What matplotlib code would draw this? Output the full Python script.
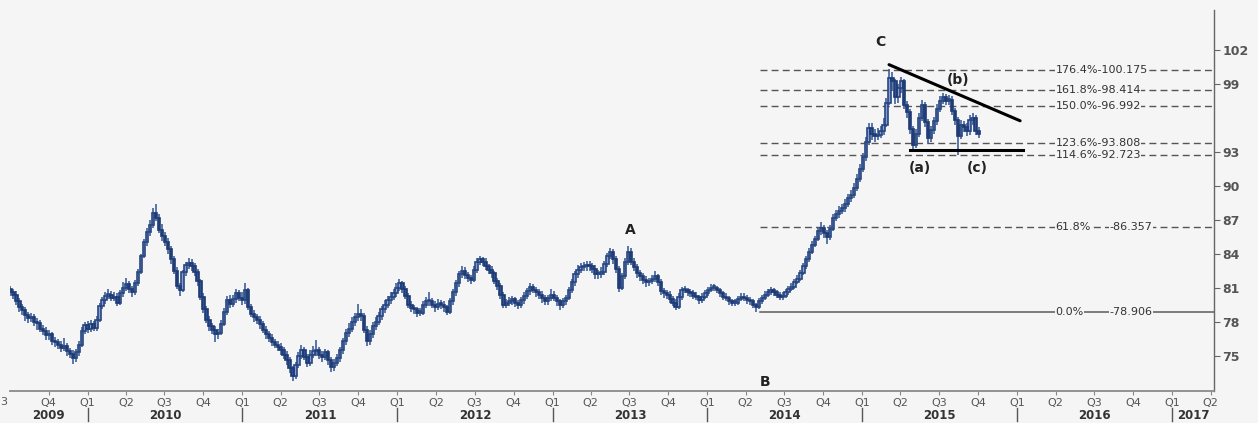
import numpy as np
import pandas as pd
import matplotlib
matplotlib.use('Agg')
import matplotlib.pyplot as plt
import matplotlib.dates as mdates
from matplotlib.transforms import blended_transform_factory

# ---------------- data (weekly candles) ----------------
start_date = '2009-07-03'
first_open = 80.9
close = [
    80.6, 80.4, 79.8, 79.3, 79.0, 78.6, 78.3, 78.4, 78.0, 77.9, 77.4, 77.2, 76.8,
    76.9, 76.3, 76.2, 76.0, 75.7, 75.9, 75.4, 75.2, 74.8, 75.3, 76.0, 77.2, 77.7,
    77.4, 77.8, 77.5, 78.2, 79.4, 79.9, 80.3, 80.4, 80.1, 80.2, 79.7, 80.5, 81.0,
    81.3, 80.9, 80.6, 81.4, 82.4, 83.8, 85.0, 85.9, 86.5, 87.6, 87.2, 86.1, 85.6,
    85.0, 84.4, 83.5, 82.5, 81.2, 80.8, 82.4, 83.0, 83.2, 82.9, 82.4, 81.6, 80.2,
    79.1, 78.2, 77.6, 77.3, 76.9, 77.0, 77.8, 78.9, 79.9, 79.6, 80.0, 80.5, 80.1,
    79.9, 80.8, 79.3, 78.7, 78.4, 78.2, 77.8, 77.3, 76.9, 76.6, 76.2, 76.0, 75.8,
    75.5, 75.1, 74.6, 73.9, 73.2, 74.2, 75.0, 75.5, 74.9, 74.4, 75.1, 75.4, 75.5,
    75.1, 74.9, 75.3, 74.6, 74.0, 74.4, 74.8, 75.5, 76.3, 77.0, 77.4, 78.0, 78.4,
    78.7, 78.5, 77.3, 76.3, 76.9, 77.6, 78.0, 78.5, 79.1, 79.5, 79.9, 80.2, 80.5,
    81.0, 81.4, 80.9, 80.3, 79.5, 79.2, 79.1, 78.8, 78.8, 79.5, 79.8, 79.8, 79.5,
    79.3, 79.6, 79.5, 79.3, 78.9, 79.8, 80.6, 81.4, 82.2, 82.5, 82.1, 81.9, 81.7,
    82.6, 83.3, 83.5, 83.3, 82.9, 82.6, 82.3, 81.6, 81.2, 80.4, 79.5, 79.7, 79.8,
    80.0, 79.7, 79.5, 79.9, 80.3, 80.7, 81.1, 80.8, 80.6, 80.4, 80.1, 79.8, 80.1,
    80.4, 80.1, 79.8, 79.5, 79.8, 80.1, 80.8, 81.5, 82.2, 82.6, 82.8, 82.9, 83.0,
    82.9, 82.7, 82.2, 82.2, 82.4, 83.1, 83.8, 84.2, 83.5, 82.7, 81.0, 82.0, 83.3,
    84.2, 83.3, 82.8, 82.3, 82.0, 81.7, 81.5, 81.6, 81.8, 82.0, 81.5, 80.7, 80.5,
    80.4, 80.0, 79.7, 79.3, 80.2, 80.8, 80.8, 80.6, 80.5, 80.3, 80.2, 79.9, 80.2,
    80.5, 80.8, 81.0, 81.0, 80.8, 80.5, 80.2, 80.1, 79.8, 79.7, 79.7, 80.0, 80.2,
    80.1, 79.9, 79.8, 79.5, 79.3, 79.8, 80.1, 80.4, 80.6, 80.8, 80.6, 80.4, 80.2,
    80.3, 80.6, 80.9, 81.1, 81.5, 81.8, 82.3, 82.9, 83.5, 84.2, 84.8, 85.3, 86.0,
    86.3, 85.8, 85.5, 86.2, 87.2, 87.5, 87.8, 88.0, 88.4, 88.9, 89.2, 89.8, 90.6,
    91.5, 92.5, 93.9, 95.1, 94.6, 94.4, 94.5, 94.8, 95.4, 97.3, 99.5, 99.2, 97.8,
    98.6, 99.2, 97.1, 96.5, 95.0, 93.6, 94.6, 96.0, 97.1, 95.6, 94.2, 94.9, 95.7,
    96.8, 97.5, 97.8, 97.5, 97.6, 96.6, 95.8, 94.4, 95.4, 95.2, 94.8, 95.8, 96.0,
    94.8, 94.6,
]
high = [
    81.2, 80.9, 80.7, 80.1, 79.6, 79.3, 78.9, 78.8, 78.7, 78.3, 78.2, 77.7, 77.5,
    77.3, 77.1, 76.7, 76.5, 76.3, 76.6, 76.1, 75.7, 75.5, 75.6, 76.3, 77.5, 78.0,
    78.1, 78.2, 78.1, 78.5, 79.7, 80.2, 80.6, 80.9, 80.7, 80.6, 80.5, 80.8, 81.5,
    81.9, 81.6, 81.2, 81.7, 82.7, 84.0, 85.3, 86.3, 87.0, 88.0, 88.4, 87.5, 86.6,
    85.9, 85.4, 84.7, 83.8, 82.8, 81.4, 82.6, 83.3, 83.6, 83.5, 83.2, 82.7, 81.8,
    80.5, 79.4, 78.5, 77.9, 77.6, 77.4, 78.2, 79.2, 80.3, 80.4, 80.4, 80.9, 80.8,
    80.6, 81.4, 81.0, 79.6, 79.0, 78.7, 78.5, 78.1, 77.6, 77.2, 76.9, 76.5, 76.3,
    76.1, 75.8, 75.4, 74.9, 74.1, 74.5, 75.3, 76.0, 75.8, 75.2, 75.5, 75.9, 76.4,
    75.8, 75.4, 75.6, 75.5, 74.9, 74.7, 75.2, 75.8, 76.6, 77.4, 77.9, 78.4, 78.8,
    79.6, 79.1, 78.8, 77.6, 77.3, 78.0, 78.4, 78.9, 79.4, 79.9, 80.3, 80.6, 80.9,
    81.4, 81.8, 81.6, 81.2, 80.5, 79.8, 79.5, 79.3, 79.2, 79.8, 80.2, 80.6, 80.1,
    79.8, 80.0, 79.9, 79.8, 79.5, 80.1, 80.9, 81.7, 82.5, 82.9, 82.8, 82.4, 82.1,
    82.9, 83.6, 83.8, 83.7, 83.6, 83.1, 82.9, 82.5, 81.9, 81.4, 80.6, 80.0, 80.2,
    80.3, 80.2, 79.9, 80.2, 80.6, 81.0, 81.4, 81.3, 81.1, 80.9, 80.7, 80.4, 80.4,
    80.9, 80.7, 80.4, 80.0, 80.1, 80.4, 81.1, 81.8, 82.5, 83.0, 83.2, 83.3, 83.4,
    83.4, 83.2, 83.0, 82.6, 82.8, 83.4, 84.1, 84.5, 84.4, 83.8, 82.9, 82.3, 83.6,
    84.7, 84.5, 83.6, 83.1, 82.6, 82.3, 82.0, 81.9, 82.1, 82.5, 82.2, 81.8, 81.0,
    80.8, 80.7, 80.3, 80.0, 80.5, 81.1, 81.2, 81.0, 80.9, 80.8, 80.6, 80.4, 80.5,
    80.8, 81.1, 81.3, 81.3, 81.2, 81.0, 80.7, 80.5, 80.3, 80.0, 80.0, 80.3, 80.5,
    80.5, 80.4, 80.2, 80.0, 79.7, 80.1, 80.4, 80.7, 80.9, 81.1, 81.0, 80.8, 80.6,
    80.6, 80.9, 81.2, 81.4, 81.8, 82.1, 82.6, 83.2, 83.8, 84.5, 85.1, 85.6, 86.3,
    86.8, 86.5, 86.1, 86.5, 87.5, 87.9, 88.2, 88.4, 88.8, 89.3, 89.6, 90.2, 91.0,
    91.9, 92.9, 94.3, 95.5, 95.5, 95.0, 95.1, 95.3, 96.0, 97.7, 100.3, 100.0, 99.4,
    99.0, 99.6, 99.4, 97.5, 96.8, 95.3, 95.0, 96.4, 97.6, 97.4, 95.9, 95.3, 96.1,
    97.2, 97.9, 98.2, 98.1, 98.0, 97.9, 96.9, 96.1, 95.8, 95.7, 95.5, 96.2, 96.4,
    96.2, 95.2,
]
low = [
    80.3, 80.0, 79.5, 78.9, 78.6, 78.1, 77.9, 78.0, 77.6, 77.3, 77.1, 76.8, 76.4,
    76.4, 76.0, 75.8, 75.6, 75.3, 75.4, 75.0, 74.8, 74.3, 74.5, 75.0, 75.8, 76.9,
    77.0, 77.1, 77.2, 77.2, 78.0, 79.1, 79.6, 80.0, 79.8, 79.8, 79.4, 79.5, 80.2,
    80.7, 80.5, 80.2, 80.4, 81.2, 82.2, 83.6, 84.7, 85.6, 86.3, 86.9, 85.8, 85.1,
    84.7, 84.0, 83.1, 82.2, 80.9, 80.3, 80.6, 82.0, 82.7, 82.5, 82.0, 81.2, 79.9,
    78.8, 77.9, 77.2, 76.9, 76.2, 76.5, 76.8, 77.6, 78.6, 79.2, 79.3, 79.7, 79.8,
    79.5, 79.6, 79.0, 78.4, 78.0, 77.8, 77.4, 77.0, 76.5, 76.2, 75.9, 75.7, 75.4,
    75.1, 74.7, 74.2, 73.5, 72.8, 73.0, 73.9, 74.7, 74.6, 74.0, 74.1, 74.8, 75.0,
    74.7, 74.5, 74.6, 74.2, 73.6, 73.7, 74.1, 74.5, 75.2, 76.0, 76.7, 77.1, 77.6,
    78.1, 78.1, 77.0, 75.9, 76.0, 76.6, 77.3, 77.7, 78.2, 78.8, 79.2, 79.6, 79.9,
    80.2, 80.7, 80.5, 80.0, 79.2, 78.9, 78.7, 78.4, 78.5, 78.6, 79.2, 79.4, 79.2,
    78.9, 79.0, 79.1, 78.9, 78.6, 78.7, 79.5, 80.3, 81.1, 81.9, 81.8, 81.5, 81.3,
    81.5, 82.3, 83.0, 82.9, 82.6, 82.2, 81.9, 81.3, 80.8, 80.0, 79.2, 79.2, 79.4,
    79.5, 79.3, 79.1, 79.2, 79.6, 80.0, 80.4, 80.5, 80.2, 80.0, 79.7, 79.5, 79.5,
    79.8, 79.8, 79.4, 79.0, 79.2, 79.5, 79.9, 80.5, 81.2, 81.9, 82.3, 82.5, 82.5,
    82.5, 82.3, 81.8, 81.8, 81.9, 82.1, 82.8, 83.5, 83.1, 82.3, 80.6, 80.8, 81.8,
    83.0, 83.0, 82.5, 81.9, 81.6, 81.3, 81.1, 81.2, 81.3, 81.5, 81.2, 80.4, 80.1,
    80.0, 79.7, 79.4, 79.0, 79.1, 79.9, 80.5, 80.3, 80.2, 80.0, 79.9, 79.6, 79.7,
    80.0, 80.3, 80.6, 80.7, 80.5, 80.2, 79.9, 79.8, 79.5, 79.4, 79.4, 79.5, 79.8,
    79.8, 79.6, 79.5, 79.2, 78.9, 79.1, 79.6, 79.9, 80.2, 80.4, 80.3, 80.1, 79.9,
    79.9, 80.1, 80.4, 80.7, 80.9, 81.3, 81.6, 82.1, 82.7, 83.3, 84.0, 84.6, 85.1,
    85.7, 85.4, 84.9, 85.2, 86.0, 86.9, 87.2, 87.5, 87.7, 88.1, 88.6, 88.9, 89.5,
    90.3, 91.2, 92.2, 93.6, 94.0, 93.9, 94.0, 94.2, 94.5, 95.2, 97.1, 98.4, 97.2,
    97.3, 98.2, 96.8, 96.0, 94.6, 93.1, 93.3, 94.3, 95.7, 95.2, 93.8, 93.9, 94.6,
    95.4, 96.5, 97.2, 97.1, 97.1, 96.2, 95.4, 92.7, 94.1, 94.7, 94.4, 94.5, 95.4,
    94.5, 94.2,
]

# Fibonacci levels
fib_pct = ['176.4%', '161.8%', '150.0%', '123.6%', '114.6%', '61.8%', '0.0%']
fib_val = [100.175, 98.414, 96.992, 93.808, 92.723, 86.357, 78.906]
fib_start = '2014-05-06'

# Wave labels
wave_text = ['A', 'B', 'C', '(a)', '(b)', '(c)']
wave_date = ['2013-07-03', '2014-05-17', '2015-02-12', '2015-05-17', '2015-08-14', '2015-09-28']
wave_val = [86.1, 72.7, 102.7, 91.6, 99.35, 91.6]

# Triangle lines
trend_dates = ['2015-03-05', '2016-01-08']
trend_vals = [100.68, 95.73]
base_dates = ['2015-04-23', '2016-01-15']
base_vals = [93.11, 93.11]

y_ticks = [75, 78, 81, 84, 87, 90, 93, 99, 102]
years = [2009, 2010, 2011, 2012, 2013, 2014, 2015, 2016, 2017]

# ---------------- figure ----------------
BG = '#f5f5f5'
W, H = 1258, 423
fig = plt.figure(figsize=(W / 100, H / 100), dpi=100, facecolor=BG)
ax = fig.add_axes([10 / W, 32 / H, (1214 - 10) / W, (413 - 32) / H], facecolor=BG)

dates = pd.date_range(start_date, periods=len(close), freq='7D')
xd = mdates.date2num(dates.to_pydatetime())
c = np.array(close)
o = np.concatenate([[first_open], c[:-1]])
hi = np.array(high)
lo = np.array(low)
up = c >= o

ax.vlines(xd, lo, hi, color='#3f5f9c', lw=1.2, zorder=2)
body_lo = np.minimum(o, c)
body_h = np.maximum(np.abs(c - o), 0.12)
ax.bar(xd[up], body_h[up], bottom=body_lo[up], width=5.6,
       color='#8a9dd6', edgecolor='#27467f', linewidth=1.2, zorder=3)
ax.bar(xd[~up], body_h[~up], bottom=body_lo[~up], width=5.6,
       color='#2f5090', edgecolor='#1e3a72', linewidth=1.2, zorder=3)

x0 = mdates.date2num(pd.Timestamp('2009-07-02'))
x1 = mdates.date2num(pd.Timestamp('2017-04-09'))
ax.set_xlim(x0, x1)
ax.set_ylim(71.9, 105.5)

# Fibonacci lines
fs = mdates.date2num(pd.Timestamp(fib_start))
lab_l = mdates.date2num(pd.Timestamp('2016-03-31'))
lab_r = mdates.date2num(pd.Timestamp('2016-11-14'))
lab_style = dict(fontsize=8, color='#333333', va='center', zorder=4,
                 bbox=dict(facecolor=BG, edgecolor='none', pad=0.4))
for p, v in zip(fib_pct, fib_val):
    if p == '0.0%':
        ax.plot([fs, x1], [v, v], color='#5a5a5a', lw=1.1, zorder=1)
    else:
        ax.plot([fs, x1], [v, v], color='#555555', lw=1.0, ls=(0, (5, 3)), zorder=1)
    if len(p) >= 6:
        ax.text(lab_l, v, f'{p}-{v:.3f}', ha='left', **lab_style)
    else:
        ax.text(lab_l, v, p, ha='left', **lab_style)
        ax.text(lab_r, v, f'-{v:.3f}', ha='right', **lab_style)

# Triangle lines
ax.plot(mdates.date2num(pd.to_datetime(trend_dates).to_pydatetime()), trend_vals,
        color='black', lw=2.2, zorder=5, solid_capstyle='round')
ax.plot(mdates.date2num(pd.to_datetime(base_dates).to_pydatetime()), base_vals,
        color='black', lw=2.2, zorder=5)

for t, d, v in zip(wave_text, wave_date, wave_val):
    ax.text(mdates.date2num(pd.Timestamp(d)), v, t, fontsize=10, fontweight='bold',
            color='#222222', ha='center', va='center', zorder=6)

# spines
for s in ['left', 'top']:
    ax.spines[s].set_visible(False)
ax.spines['bottom'].set_color('#8a8a8a')
ax.spines['bottom'].set_linewidth(1.3)
ax.spines['right'].set_color('#666666')
ax.spines['right'].set_linewidth(1.0)

# y axis
ax.yaxis.tick_right()
ax.set_yticks(y_ticks)
ax.set_yticklabels([str(t) for t in y_ticks], fontsize=9, fontweight='bold', color='#555555')
ax.tick_params(axis='y', length=4, color='#666666', pad=2)

# x axis: quarters
qs = pd.date_range('2009-10-01', '2017-04-01', freq='QS')
ax.set_xticks(mdates.date2num(qs.to_pydatetime()))
ax.set_xticklabels([f'Q{(d.month - 1) // 3 + 1}' for d in qs], fontsize=8, color='#555555')
ax.tick_params(axis='x', length=3, color='#888888', pad=2)
fig.text(4 / W, 1 - 402 / H, '3', fontsize=8, color='#555555', ha='center', va='center')

trans = blended_transform_factory(ax.transData, ax.transAxes)
for y in years:
    a = max(mdates.date2num(pd.Timestamp(f'{y}-01-01')), x0)
    b = min(mdates.date2num(pd.Timestamp(f'{y + 1}-01-01')), x1)
    ax.text((a + b) / 2, -0.063, str(y), transform=trans, fontsize=8.5, fontweight='bold',
            color='#333333', ha='center', va='center', clip_on=False)
    if y > 2009:
        xs = mdates.date2num(pd.Timestamp(f'{y}-01-01'))
        ax.plot([xs, xs], [-0.045, -0.08], transform=trans, color='#555555', lw=1.0,
                clip_on=False)

fig.savefig('out.png', dpi=100, facecolor=BG)
